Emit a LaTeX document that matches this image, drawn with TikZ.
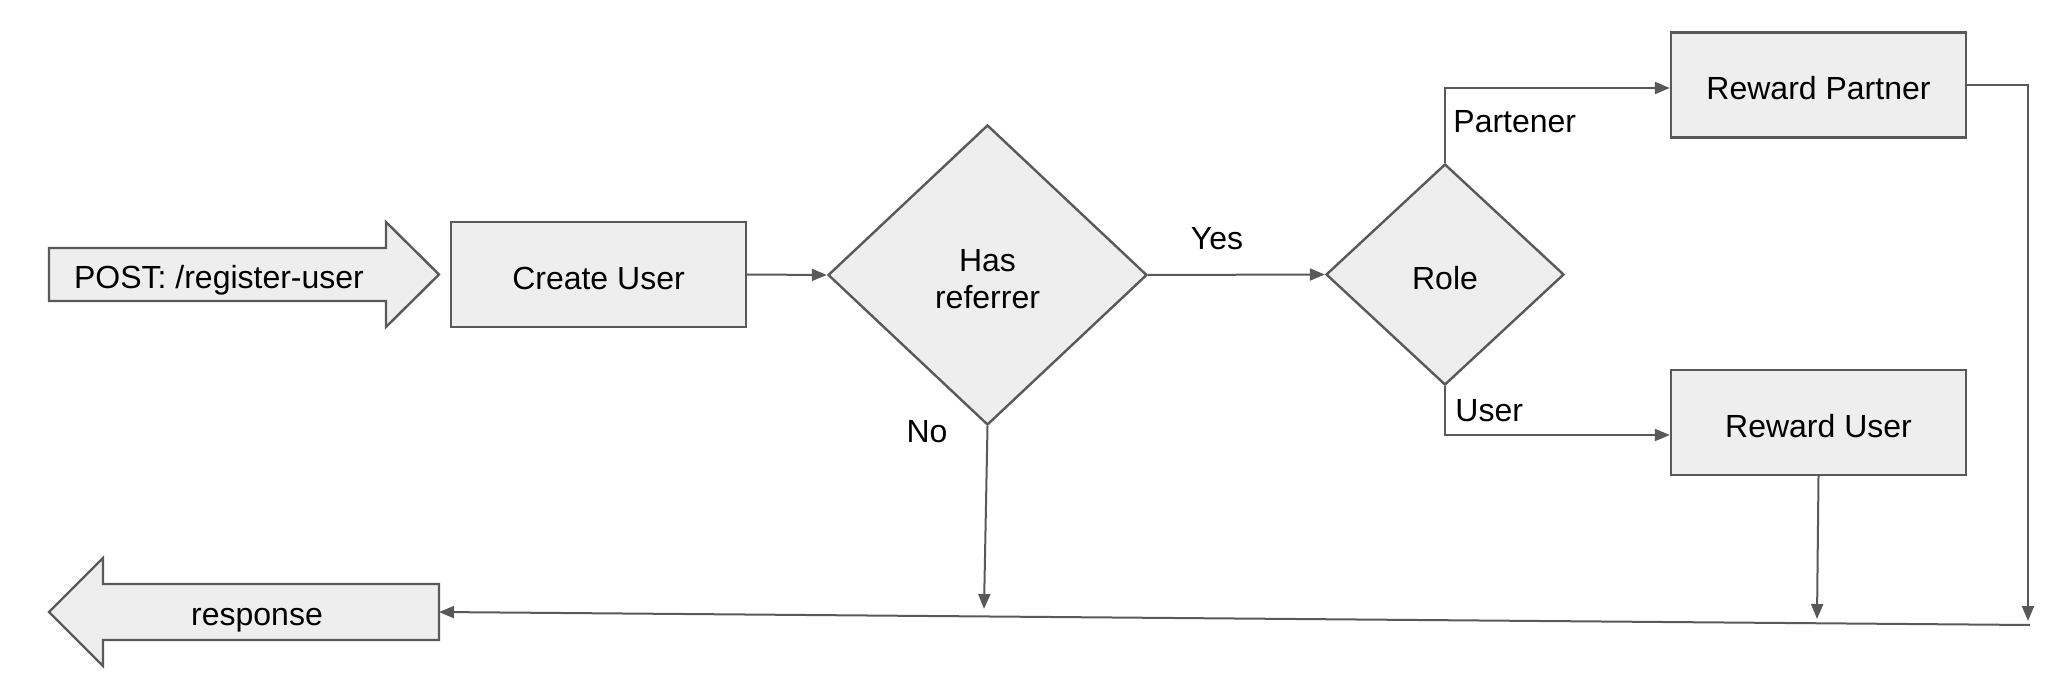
\documentclass[tikz,border=0pt]{standalone}
\usepackage{fontspec}
\setmainfont{Liberation Sans}
\usetikzlibrary{shapes.geometric,arrows.meta}
\definecolor{edge}{HTML}{595959}
\definecolor{boxfill}{HTML}{EEEEEE}
\tikzset{
  txt/.style={font=\fontsize{16pt}{19pt}\selectfont},
  box/.style={txt,draw=edge,fill=boxfill,line width=1.2pt,minimum width=147.5pt,minimum height=52.5pt,inner sep=0pt,text height=15pt,text depth=0pt},
  decision/.style={draw=edge,fill=boxfill,line width=1.2pt,diamond,inner sep=0pt},
  bigarrow/.style={draw=edge,fill=boxfill,line width=1.2pt,line join=miter},
  lbl/.style={txt,inner sep=0pt},
  conn/.style={draw=edge,line width=1pt,-{Triangle[length=7.5pt,width=6pt]}},
}
\begin{document}
\begin{tikzpicture}[x=0.5pt,y=-0.5pt]
\useasboundingbox (0,0) rectangle (2068,684);
% input arrow
\path[bigarrow] (49,248)--(386,248)--(386,222)--(439,274.5)--(386,327)--(386,301)--(49,301)--cycle;
\node[lbl,anchor=base] (post) at (219,289) {POST: /register-user};
% output arrow
\path[bigarrow] (439,584)--(103,584)--(103,558)--(49,612)--(103,666)--(103,640)--(439,640)--cycle;
\node[lbl,anchor=base] (resp) at (257,625) {response};
\coordinate (respin) at (439,612);
% nodes
\node[box] (create) at (598.5,274.5) {Create User};
\node[decision,minimum width=159.5pt,minimum height=150pt] (hasref) at (987.5,275) {};
\node[lbl,anchor=base] (hastxt) at (987.5,272) {Has};
\node[lbl,anchor=base] (reftxt) at (987.5,309) {referrer};
\node[decision,minimum width=119pt,minimum height=110.5pt] (role) at (1445,274.5) {};
\node[lbl,anchor=base] (roletxt) at (1445,290) {Role};
\node[box] (rpartner) at (1818.5,85) {Reward Partner};
\node[box] (ruser) at (1818.5,422.5) {Reward User};
% labels
\node[lbl] (yes) at (1217,239) {Yes};
\node[lbl] (no) at (927,432) {No};
\node[lbl,anchor=west] (partl) at (1453,122) {Partener};
\node[lbl,anchor=west] (userl) at (1455,411) {User};
% join points
\coordinate (pcorner) at (1445,88);
\coordinate (ucorner) at (1445,435);
\coordinate (rpright) at (2028,85);
\coordinate (rpdown) at (2028,621);
\coordinate (rudown) at (1817,619);
\coordinate (nodown) at (984,609);
\coordinate (lineend) at (2030,625);
% connectors
\draw[conn] (create.east) -- (hasref.west);
\draw[conn] (hasref.east) -- (role.west);
\draw[conn] (role.north) -- (pcorner) -- (pcorner -| rpartner.west);
\draw[conn] (role.south) -- (ucorner) -- (ucorner -| ruser.west);
\draw[conn] (rpartner.east) -- (rpright) -- (rpdown);
\draw[conn] (ruser.south) -- (rudown);
\draw[conn] (hasref.south) -- (nodown);
\draw[conn] (lineend) -- (respin);
\end{tikzpicture}
\end{document}
